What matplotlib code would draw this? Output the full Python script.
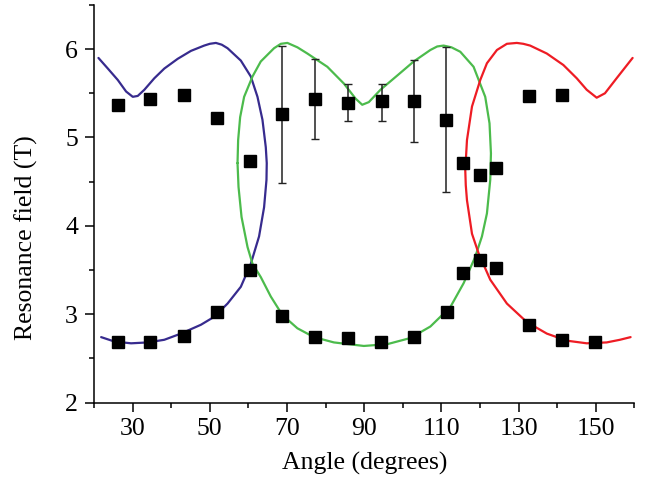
import numpy as np
import matplotlib.pyplot as plt

# measured resonance fields (squares)
upper_angle = [26.2, 34.6, 43.2, 51.8, 60.3, 68.8, 77.2, 85.8, 94.5, 102.8, 111.3, 115.6, 119.9, 124.2, 132.7, 141.2]
upper_field = [5.37, 5.43, 5.48, 5.22, 4.73, 5.26, 5.44, 5.39, 5.41, 5.41, 5.20, 4.71, 4.58, 4.65, 5.47, 5.48]

lower_angle = [26.2, 34.6, 43.2, 51.8, 60.3, 68.8, 77.2, 85.8, 94.4, 102.8, 111.4, 115.6, 119.9, 124.2, 132.7, 141.2, 149.8]
lower_field = [2.68, 2.68, 2.75, 3.02, 3.50, 2.98, 2.74, 2.73, 2.69, 2.74, 3.03, 3.47, 3.61, 3.52, 2.88, 2.71, 2.69]

# error bars on some of the upper points
err_angle = [68.8, 77.2, 85.8, 94.5, 102.8, 111.3]
err_field = [5.26, 5.44, 5.39, 5.41, 5.41, 5.20]
err_low = [4.49, 4.98, 5.19, 5.19, 4.95, 4.38]
err_high = [6.03, 5.89, 5.61, 5.61, 5.88, 6.02]

# simulated curves (closed loops)
blue_x = [21.16, 23.59, 26.18, 28.32, 30.05, 31.34, 33.05, 35.63, 38.22, 41.68, 45.12, 48.55, 50.0, 51.58,
          53.1, 54.60, 58.04, 60.62, 62.35, 63.64, 64.50, 64.75, 64.68, 64.06, 62.76, 60.62, 58.04, 54.60,
          51.14, 47.70, 42.53, 38.22, 33.93, 29.61, 25.30, 21.86]
blue_y = [5.90, 5.78, 5.65, 5.52, 5.46, 5.47, 5.54, 5.67, 5.78, 5.89, 5.98, 6.04, 6.06, 6.07,
          6.05, 6.01, 5.87, 5.69, 5.46, 5.20, 4.89, 4.71, 4.52, 4.21, 3.88, 3.57, 3.31, 3.12,
          2.97, 2.88, 2.78, 2.71, 2.68, 2.67, 2.69, 2.74]

green_x = [57.18, 57.34, 57.86, 58.89, 61.06, 63.20, 66.64, 68.4, 70.10, 72.7, 75.27, 80.44, 84.73, 87.75,
           89.48, 91.19, 94.21, 98.53, 102.82, 107.13, 108.9, 110.57, 112.6, 114.88, 118.32, 121.34,
           122.45, 122.82, 122.64, 121.78, 120.49, 118.76, 115.74, 112.30, 107.13, 101.96, 95.94, 89.90,
           82.15, 76.98, 72.69, 68.81, 65.79, 63.20, 61.06, 59.77, 58.22, 57.44, 57.18]
green_y = [4.71, 4.97, 5.23, 5.46, 5.69, 5.86, 6.01, 6.06, 6.07, 6.02, 5.95, 5.80, 5.61, 5.44,
           5.37, 5.40, 5.54, 5.70, 5.86, 5.99, 6.03, 6.04, 6.02, 5.97, 5.80, 5.46,
           5.16, 4.82, 4.52, 4.14, 3.88, 3.65, 3.35, 3.08, 2.86, 2.73, 2.66, 2.64,
           2.68, 2.74, 2.84, 2.99, 3.20, 3.42, 3.57, 3.76, 4.10, 4.44, 4.71]

red_x = [159.51, 155.37, 152.35, 150.21, 147.62, 145.04, 141.58, 137.29, 132.97, 131.2, 129.53, 126.95,
         124.37, 121.78, 120.05, 117.91, 116.61, 116.17, 116.30, 116.61, 117.91, 119.61, 122.64, 126.95,
         132.12, 137.29, 142.45, 147.62, 152.79, 156.23, 158.99]
red_y = [5.90, 5.67, 5.50, 5.45, 5.54, 5.67, 5.82, 5.95, 6.04, 6.06, 6.07, 6.06,
         5.99, 5.84, 5.65, 5.35, 4.97, 4.63, 4.46, 4.29, 3.91, 3.69, 3.39, 3.12,
         2.91, 2.78, 2.70, 2.67, 2.68, 2.71, 2.74]

plt.rcParams['font.family'] = 'serif'
plt.rcParams['font.serif'] = ['Liberation Serif', 'Times New Roman', 'DejaVu Serif']
plt.rcParams['font.size'] = 18.5

fig = plt.figure(figsize=(6.45, 4.79), dpi=100)
ax = fig.add_axes([0.1457, 0.1597, 0.838, 0.830])

style = dict(lw=1.6, solid_joinstyle='round', solid_capstyle='round', zorder=2)
ax.plot(blue_x, blue_y, color='#372b8e', **style)
ax.plot(green_x, green_y, color='#4cbb4c', **style)
ax.plot(red_x, red_y, color='#ee1c24', **style)

yerr = [np.array(err_field) - np.array(err_low), np.array(err_high) - np.array(err_field)]
ax.errorbar(err_angle, err_field, yerr=yerr, fmt='none', ecolor='#222222',
            elinewidth=1.1, capsize=3, capthick=1.0, zorder=3)

ax.plot(upper_angle, upper_field, 's', color='black', ms=8.5, zorder=4)
ax.plot(lower_angle, lower_field, 's', color='black', ms=8.5, zorder=4)

ax.set_xlim(20, 160)
ax.set_ylim(2, 6.5)
ax.set_xticks([30, 50, 70, 90, 110, 130, 150])
ax.set_xticks([20, 40, 60, 80, 100, 120, 140, 160], minor=True)
ax.set_yticks([2, 3, 4, 5, 6])
ax.set_yticks([2.5, 3.5, 4.5, 5.5, 6.5], minor=True)
ax.tick_params(which='major', direction='out', length=6.5, width=1.1, pad=5)
ax.tick_params(which='minor', direction='out', length=3.5, width=1.1)

for side in ['top', 'right']:
    ax.spines[side].set_visible(False)
for side in ['left', 'bottom']:
    ax.spines[side].set_linewidth(1.1)

ax.set_xlabel('Angle (degrees)', labelpad=8)
ax.set_ylabel('Resonance field (T)')
ax.yaxis.set_label_coords(-0.104, 0.415)

fig.savefig('out.png', dpi=100)
